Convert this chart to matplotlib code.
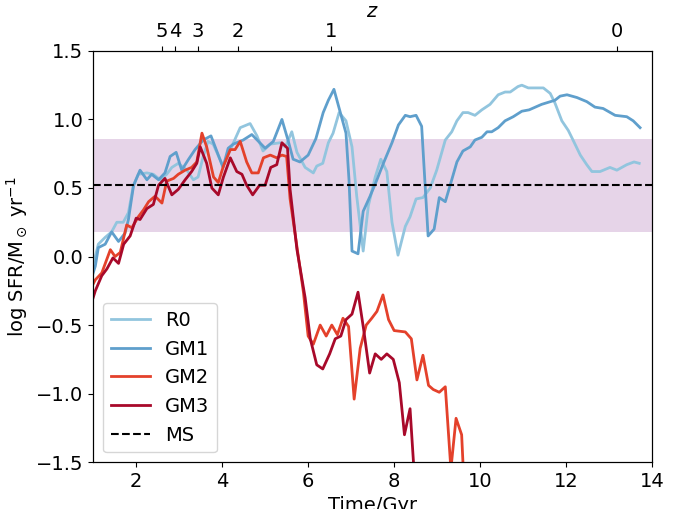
import numpy as np
import matplotlib
matplotlib.use('Agg')
import matplotlib.pyplot as plt

# SFR histories (time in Gyr, log SFR)
t_r0 = [1.0, 1.05, 1.12, 1.28, 1.43, 1.55, 1.7, 1.82, 1.93, 2.05, 2.25, 2.4, 2.56, 2.71, 2.83,
        2.98, 3.18, 3.33, 3.44, 3.56, 3.67, 3.79, 4.02, 4.22, 4.42, 4.65, 4.81, 4.95, 5.12, 5.35,
        5.47, 5.62, 5.74, 5.93, 6.12, 6.2, 6.34, 6.47, 6.58, 6.72, 6.88, 7.02, 7.13, 7.28, 7.4,
        7.56, 7.69, 7.83, 7.95, 8.09, 8.26, 8.37, 8.51, 8.67, 8.84, 8.99, 9.19, 9.34, 9.46, 9.6,
        9.72, 9.88, 10.04, 10.23, 10.42, 10.58, 10.7, 10.88, 10.97, 11.12, 11.47, 11.63, 11.74,
        11.9, 12.05, 12.16, 12.33, 12.48, 12.6, 12.79, 13.02, 13.18, 13.41, 13.58, 13.7]
sfr_r0 = [-0.05, 0.0, 0.09, 0.14, 0.18, 0.25, 0.25, 0.32, 0.51, 0.6, 0.61, 0.6, 0.56, 0.6, 0.65,
          0.68, 0.63, 0.56, 0.58, 0.73, 0.84, 0.82, 0.66, 0.8, 0.94, 0.97, 0.88, 0.77, 0.82, 0.83,
          0.8, 0.91, 0.76, 0.65, 0.61, 0.66, 0.68, 0.83, 0.9, 1.05, 0.99, 0.8, 0.44, 0.04, 0.37,
          0.58, 0.71, 0.62, 0.25, 0.01, 0.22, 0.29, 0.42, 0.43, 0.5, 0.63, 0.85, 0.91, 0.99, 1.05,
          1.05, 1.03, 1.07, 1.11, 1.18, 1.2, 1.2, 1.24, 1.25, 1.23, 1.23, 1.19, 1.12,
          0.99, 0.92, 0.85, 0.74, 0.67, 0.62, 0.62, 0.65, 0.63, 0.67, 0.69, 0.68]

t_gm1 = [1.0, 1.05, 1.12, 1.28, 1.43, 1.59, 1.74, 1.82, 1.94, 2.09, 2.25, 2.36, 2.52, 2.67, 2.79,
         2.93, 3.06, 3.22, 3.37, 3.56, 3.74, 4.02, 4.14, 4.26, 4.49, 4.69, 5.0, 5.19, 5.39, 5.54,
         5.65, 5.81, 6.0, 6.18, 6.35, 6.47, 6.6, 6.74, 6.88, 6.95, 7.02, 7.16, 7.28, 7.44, 7.6,
         7.75, 7.95, 8.1, 8.26, 8.37, 8.51, 8.64, 8.79, 8.93, 9.05, 9.19, 9.34, 9.46, 9.6, 9.77,
         9.88, 10.04, 10.16, 10.27, 10.42, 10.58, 10.77, 10.97, 11.14, 11.43, 11.74, 11.86,
         12.02, 12.25, 12.48, 12.67, 12.86, 13.14, 13.41, 13.56, 13.72]
sfr_gm1 = [-0.12, -0.07, 0.065, 0.09, 0.18, 0.11, 0.17, 0.27, 0.52, 0.63, 0.56, 0.6, 0.56, 0.61, 0.73,
           0.76, 0.63, 0.71, 0.78, 0.85, 0.88, 0.65, 0.79, 0.82, 0.85, 0.89, 0.79, 0.84, 1.0, 0.84,
           0.71, 0.69, 0.74, 0.86, 1.05, 1.14, 1.22, 1.06, 0.9, 0.56, 0.04, 0.02, 0.33, 0.44, 0.56,
           0.68, 0.83, 0.96, 1.03, 1.02, 1.03, 0.95, 0.15, 0.2, 0.43, 0.4, 0.56, 0.69, 0.77, 0.8,
           0.85, 0.87, 0.91, 0.91, 0.94, 0.99, 1.02, 1.06, 1.07, 1.11, 1.14, 1.17,
           1.18, 1.16, 1.13, 1.09, 1.08, 1.03, 1.02, 0.99, 0.94]

t_gm2 = [1.0, 1.05, 1.2, 1.4, 1.51, 1.63, 1.78, 1.9, 2.05, 2.17, 2.29, 2.44, 2.6, 2.71, 2.87,
         2.98, 3.14, 3.29, 3.41, 3.53, 3.64, 3.8, 3.91, 4.03, 4.19, 4.3, 4.42, 4.57, 4.69, 4.84,
         4.96, 5.12, 5.27, 5.39, 5.5, 5.58, 5.74, 5.89, 6.0, 6.12, 6.28, 6.42, 6.55, 6.68, 6.81,
         6.94, 7.07, 7.21, 7.35, 7.48, 7.6, 7.74, 7.87, 8.0, 8.26, 8.4, 8.53, 8.67, 8.8, 8.91,
         9.05, 9.19, 9.32, 9.44, 9.57, 9.63]
sfr_gm2 = [-0.2, -0.17, -0.12, 0.05, 0.0, 0.03, 0.23, 0.21, 0.29, 0.34, 0.4, 0.44, 0.39, 0.55, 0.57,
           0.6, 0.63, 0.65, 0.69, 0.9, 0.8, 0.58, 0.54, 0.66, 0.78, 0.78, 0.84, 0.69, 0.61, 0.61,
           0.72, 0.74, 0.72, 0.74, 0.73, 0.42, 0.07, -0.26, -0.58, -0.64, -0.5, -0.58, -0.5, -0.57, -0.45,
           -0.51, -1.04, -0.67, -0.5, -0.45, -0.4, -0.28, -0.46, -0.54, -0.55, -0.6, -0.9, -0.72, -0.94, -0.97,
           -0.99, -0.95, -1.55, -1.18, -1.3, -1.7]

t_gm3 = [1.0, 1.05, 1.2, 1.32, 1.46, 1.59, 1.71, 1.86, 2.0, 2.09, 2.25, 2.4, 2.52, 2.67, 2.83,
         2.98, 3.14, 3.29, 3.41, 3.49, 3.64, 3.76, 3.91, 4.03, 4.19, 4.34, 4.46, 4.57, 4.71, 4.87,
         5.0, 5.13, 5.27, 5.39, 5.52, 5.58, 5.74, 5.93, 6.05, 6.2, 6.34, 6.5, 6.63, 6.76, 6.88,
         7.02, 7.16, 7.29, 7.43, 7.56, 7.7, 7.83, 7.98, 8.12, 8.24, 8.37, 8.47]
sfr_gm3 = [-0.3, -0.25, -0.14, -0.09, -0.01, -0.05, 0.09, 0.15, 0.28, 0.27, 0.35, 0.38, 0.52, 0.57, 0.45,
           0.49, 0.56, 0.62, 0.68, 0.8, 0.68, 0.5, 0.45, 0.58, 0.72, 0.62, 0.6, 0.52, 0.45, 0.52,
           0.52, 0.65, 0.67, 0.83, 0.79, 0.49, 0.05, -0.3, -0.6, -0.79, -0.82, -0.71, -0.6, -0.58, -0.46,
           -0.42, -0.26, -0.53, -0.85, -0.71, -0.75, -0.71, -0.75, -0.92, -1.3, -1.11, -1.6]

ms_level = 0.52
ms_band = [0.18, 0.86]

z_labels = ['5', '4', '3', '2', '1', '0']
z_times = [2.60, 2.91, 3.43, 4.37, 6.53, 13.19]

plt.rcParams['font.size'] = 14

fig = plt.figure(figsize=(6.85, 5.09), dpi=100)
ax = fig.add_axes([0.136, 0.092, 0.816, 0.808])

ax.axhspan(ms_band[0], ms_band[1], color='#e6d4e8', lw=0, zorder=0)
ax.plot(t_r0, sfr_r0, color='#92c5de', lw=2, label='R0')
ax.plot(t_gm1, sfr_gm1, color='#5f9fcc', lw=2, label='GM1')
ax.plot(t_gm2, sfr_gm2, color='#e4412b', lw=2, label='GM2')
ax.plot(t_gm3, sfr_gm3, color='#a8092a', lw=2, label='GM3')
ax.axhline(ms_level, color='black', ls='--', lw=1.5, label='MS')

ax.set_xlim(1, 14)
ax.set_ylim(-1.5, 1.5)
ax.set_xticks([2, 4, 6, 8, 10, 12, 14])
ax.set_yticks([-1.5, -1.0, -0.5, 0.0, 0.5, 1.0, 1.5])
ax.set_xlabel('Time/Gyr')
ax.set_ylabel(r'log SFR/M$_\odot$ yr$^{-1}$')
ax.legend(loc='lower left', fontsize=14)

# redshift axis on top
ax2 = ax.twiny()
ax2.set_xlim(ax.get_xlim())
ax2.set_xticks(z_times)
ax2.set_xticklabels(z_labels)
ax2.set_xlabel('$z$')

fig.savefig('out.png', dpi=100)
